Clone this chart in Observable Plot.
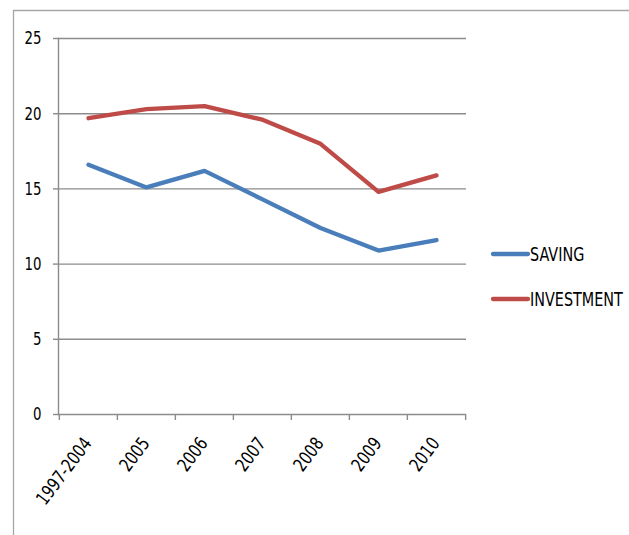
<!DOCTYPE html>
<html>
<head>
<meta charset="utf-8">
<script src="https://cdn.jsdelivr.net/npm/d3@7"></script>
<script src="https://cdn.jsdelivr.net/npm/@observablehq/plot@0.6"></script>
<style>
  html, body { margin: 0; padding: 0; background: #fff; }
  #chart svg { display: block; }
</style>
</head>
<body>
<div id="chart"></div>
<script>
// Saving and investment, % (1997-2004 average, then yearly)
const categories = ["1997-2004", "2005", "2006", "2007", "2008", "2009", "2010"];
const saving = [16.6, 15.1, 16.2, 14.3, 12.4, 10.9, 11.6];
const investment = [19.7, 20.3, 20.5, 19.6, 18.0, 14.8, 15.9];
const yTicks = [0, 5, 10, 15, 20, 25];
const seriesNames = ["SAVING", "INVESTMENT"];
const seriesColors = ["#4a7ebb", "#be4b48"];

const W = 629, H = 535;
const M = {top: 38, right: 163, bottom: 121, left: 58};
const step = (W - M.left - M.right) / categories.length;
const font = "'DejaVu Sans', sans-serif";
const gridColor = "#8c8c8c";

const rows = [
  ...categories.map((c, i) => ({category: c, value: saving[i], series: seriesNames[0]})),
  ...categories.map((c, i) => ({category: c, value: investment[i], series: seriesNames[1]}))
];

const chart = Plot.plot({
  width: W,
  height: H,
  marginTop: M.top,
  marginRight: M.right,
  marginBottom: M.bottom,
  marginLeft: M.left,
  style: {fontFamily: font, fontSize: "18.5px", color: "#000", background: "#fff"},
  x: {type: "point", domain: categories, padding: 0.5, align: 0.5, axis: null},
  y: {domain: [0, 25], axis: null},
  color: {domain: seriesNames, range: seriesColors},
  marks: [
    Plot.gridY(yTicks, {stroke: gridColor, strokeOpacity: 1, strokeWidth: 1.4}),
    Plot.frame({anchor: "left", stroke: gridColor, strokeWidth: 1.4}),
    Plot.axisY(yTicks, {
      tickSize: 5, tickPadding: 12, stroke: gridColor, strokeWidth: 1.4,
      fill: "#000", fontSize: 18.5, label: null, className: "ylab"
    }),
    // category boundary ticks under the baseline
    Plot.ruleX(categories, {x: d => d, y1: 0, y2: 0, insetBottom: -6, dx: -step / 2, stroke: gridColor, strokeWidth: 1.4}),
    Plot.ruleX(categories.slice(-1), {x: d => d, y1: 0, y2: 0, insetBottom: -6, dx: step / 2, stroke: gridColor, strokeWidth: 1.4}),
    Plot.text(categories, {
      x: d => d, text: d => d, frameAnchor: "bottom",
      rotate: -53, textAnchor: "end", lineAnchor: "bottom",
      dx: 4, dy: 29, fontSize: 18.5, fill: "#000", className: "xlab"
    }),
    Plot.line(rows, {
      x: "category", y: "value", z: "series", stroke: "series",
      strokeWidth: 4.3, strokeLinejoin: "round", strokeLinecap: "round"
    })
  ]
});

document.getElementById("chart").appendChild(chart);

const svg = d3.select(chart);

// narrow, tall lettering: squeeze each label along its baseline
function squeeze(selection, k) {
  selection.each(function () {
    const len = this.getComputedTextLength();
    this.setAttribute("textLength", (len * k).toFixed(2));
    this.setAttribute("lengthAdjust", "spacingAndGlyphs");
  });
}
squeeze(svg.selectAll(".ylab text"), 0.72);
squeeze(svg.selectAll(".xlab text"), 0.78);

// outer chart-area border
svg.append("path")
  .attr("d", `M13.5,${H} V10.5 H${W}`)
  .attr("fill", "none")
  .attr("stroke", "#a6a6a6")
  .attr("stroke-width", 1.3);

// legend
const legend = svg.append("g")
  .attr("font-family", font)
  .attr("font-size", 20)
  .attr("text-anchor", "start");
const legendY = [254, 299];
seriesNames.forEach((name, i) => {
  const g = legend.append("g").attr("transform", `translate(493,${legendY[i]})`);
  g.append("line")
    .attr("x1", 0).attr("x2", 35).attr("y1", 0).attr("y2", 0)
    .attr("stroke", seriesColors[i]).attr("stroke-width", 4.3)
    .attr("stroke-linecap", "round");
  g.append("text")
    .attr("transform", "translate(37,0) scale(0.72,1)")
    .attr("dy", "0.36em")
    .attr("fill", "#000")
    .text(name);
});
</script>
</body>
</html>
